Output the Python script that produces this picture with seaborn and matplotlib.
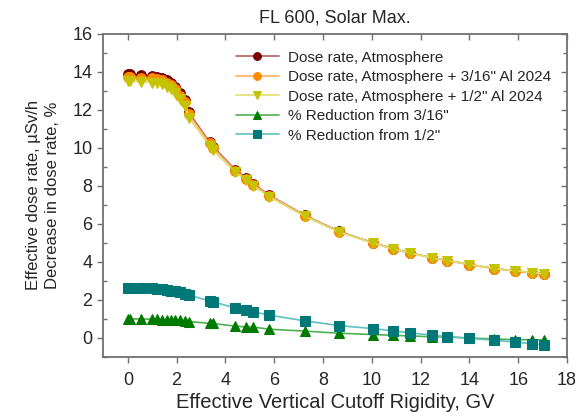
import numpy as np
import pandas as pd
import matplotlib
matplotlib.use("Agg")
import matplotlib.pyplot as plt
from matplotlib.ticker import MultipleLocator
import seaborn as sns

# rigidez de corte (GV)
rigidez = [0, 0.1, 0.55, 1.0, 1.2, 1.4, 1.6, 1.75, 1.95, 2.15, 2.35, 2.5, 3.35, 3.5,
           4.4, 4.85, 5.15, 5.8, 7.25, 8.65, 10.05, 10.85, 11.55, 12.45, 13.1, 14.0,
           15.0, 15.85, 16.55, 17.05]

dose_atm = [13.85, 13.85, 13.82, 13.78, 13.74, 13.67, 13.55, 13.42, 13.2, 12.85, 12.5,
            11.85, 10.3, 10.05, 8.85, 8.4, 8.1, 7.5, 6.45, 5.6, 5.0, 4.7, 4.48, 4.22,
            4.07, 3.86, 3.65, 3.53, 3.43, 3.36]
dose_316 = [13.71, 13.71, 13.68, 13.64, 13.61, 13.54, 13.42, 13.29, 13.07, 12.73, 12.39,
            11.75, 10.22, 9.97, 8.8, 8.35, 8.05, 7.47, 6.43, 5.59, 4.99, 4.69, 4.47,
            4.22, 4.07, 3.86, 3.65, 3.53, 3.43, 3.36]
dose_12 = [13.49, 13.49, 13.46, 13.42, 13.39, 13.33, 13.21, 13.09, 12.87, 12.54, 12.21,
           11.58, 10.1, 9.86, 8.71, 8.28, 7.99, 7.41, 6.39, 5.56, 4.98, 4.68, 4.47,
           4.21, 4.07, 3.86, 3.65, 3.54, 3.44, 3.37]
red_316 = [1.0, 1.0, 1.0, 0.98, 0.98, 0.97, 0.96, 0.95, 0.95, 0.93, 0.9, 0.86, 0.77,
           0.76, 0.62, 0.58, 0.57, 0.46, 0.36, 0.25, 0.18, 0.14, 0.11, 0.06, 0.05,
           0.0, -0.05, -0.09, -0.09, -0.11]
red_12 = [2.62, 2.62, 2.62, 2.6, 2.58, 2.55, 2.52, 2.48, 2.45, 2.4, 2.32, 2.25, 1.95,
          1.9, 1.57, 1.47, 1.38, 1.2, 0.9, 0.65, 0.49, 0.38, 0.27, 0.15, 0.07, -0.02,
          -0.12, -0.21, -0.3, -0.36]

series = [
    ("Dose rate, Atmosphere", dose_atm, "o", "#b85c5c", "#7a0000"),
    ('Dose rate, Atmosphere + 3/16" Al 2024', dose_316, "o", "#ffb060", "#ff8c00"),
    ('Dose rate, Atmosphere + 1/2" Al 2024', dose_12, "v", "#e0e070", "#c4c400"),
    ('% Reduction from 3/16"', red_316, "^", "#50b050", "#007a00"),
    ('% Reduction from 1/2"', red_12, "s", "#60c0c0", "#007878"),
]

cinza = "#707070"

sns.set_theme(style="ticks")
plt.rcParams["font.family"] = ["Liberation Sans", "DejaVu Sans"]

fig = plt.figure(figsize=(5.81, 4.19), dpi=100)
ax = fig.add_axes([0.178, 0.148, 0.798, 0.772])

for nome, valores, mk, cor_linha, cor_marc in series:
    sns.lineplot(x=rigidez, y=valores, ax=ax, label=nome, color=cor_linha,
                 marker=mk, markersize=7, markerfacecolor=cor_marc,
                 markeredgecolor=cor_marc, linewidth=1.2, sort=False,
                 estimator=None)

ax.set_xlim(-1, 18)
ax.set_ylim(-1, 16)
ax.xaxis.set_major_locator(MultipleLocator(2))
ax.yaxis.set_major_locator(MultipleLocator(2))
ax.yaxis.set_minor_locator(MultipleLocator(1))

for s in ax.spines.values():
    s.set_color(cinza)
    s.set_linewidth(1.3)

ax.tick_params(axis="x", direction="out", length=4, width=1, color=cinza,
               labelsize=13, pad=7)
ax.tick_params(axis="y", which="major", direction="out", length=4, width=1,
               color=cinza, labelsize=13, pad=4)
ax.tick_params(axis="y", which="minor", direction="in", length=3, width=1,
               color=cinza)

# ticks internos no topo e na direita
topo = ax.secondary_xaxis("top")
topo.xaxis.set_major_locator(MultipleLocator(2))
topo.tick_params(direction="in", length=4, width=1, color=cinza, labeltop=False)
topo.spines["top"].set_visible(False)

direita = ax.secondary_yaxis("right")
direita.yaxis.set_major_locator(MultipleLocator(2))
direita.yaxis.set_minor_locator(MultipleLocator(1))
direita.tick_params(which="both", direction="in", length=4, width=1, color=cinza,
                    labelright=False)
direita.tick_params(which="minor", length=3)
direita.spines["right"].set_visible(False)

ax.set_xlabel("Effective Vertical Cutoff Rigidity, GV", fontsize=14.5, labelpad=3)
ax.set_ylabel("Effective dose rate, µSv/h\nDecrease in dose rate, %",
              fontsize=12, labelpad=9, linespacing=1.3)
ax.set_title("FL 600, Solar Max.", fontsize=13, pad=8)

ax.legend(loc="upper right", frameon=False, fontsize=11, handlelength=2.8,
          markerscale=0.8, labelspacing=0.36, handletextpad=0.6,
          bbox_to_anchor=(0.995, 0.99))

fig.savefig("out.png", dpi=100)
